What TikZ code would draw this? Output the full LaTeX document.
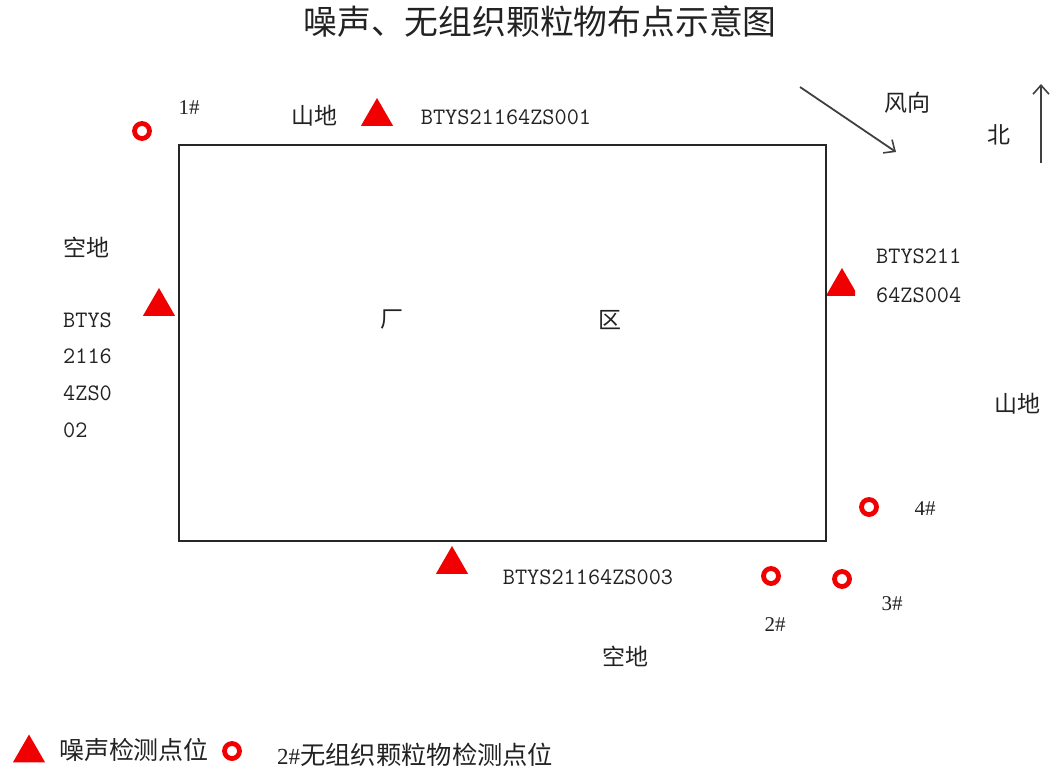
\documentclass[tikz,border=0pt]{standalone}
\usepackage{fontspec}
\usetikzlibrary{shapes.geometric,arrows.meta}
\newfontfamily\cjk{Noto Sans CJK SC}
\newfontfamily\hashfont{Liberation Serif}
\definecolor{txt}{HTML}{222222}
\definecolor{mk}{HTML}{F00000}
\tikzset{
  lbl/.style={inner sep=0pt, text=txt, font=\cjk\fontsize{23}{24}\selectfont},
  code/.style={inner sep=0pt, text=txt, font=\ttfamily\fontsize{23.6}{24}\selectfont},
  hash/.style={inner sep=0pt, text=txt, font=\hashfont\fontsize{21}{22}\selectfont},
  tri/.style={regular polygon, regular polygon sides=3, minimum size=37pt, inner sep=0pt, fill=mk, draw=none},
  ring/.style={circle, draw=mk, line width=4.8pt, minimum size=15pt, inner sep=0pt},
  arr/.style={draw=black!75, line width=1.8pt, -{Straight Barb[length=9pt,width=16pt,line width=1.6pt]}},
}
\begin{document}
\begin{tikzpicture}[x=1pt,y=-1pt]
\useasboundingbox (0,0) rectangle (1053,774);
% title
\node[inner sep=0pt, text=txt, font=\cjk\fontsize{33.8}{36}\selectfont] (title) at (540,22) {噪声、无组织颗粒物布点示意图};
% plant boundary
\node[draw=black!85, line width=1.6pt, minimum width=647pt, minimum height=396pt, inner sep=0pt] (plant) at (502.5,343) {};
\node[lbl] (chang) at (392,320) {厂};
\node[lbl] (qu) at (610,320) {区};
% top
\node[ring] (c1) at (142,131) {};
\node[hash] (h1) at (189,108) {1\#};
\node[lbl] (shan1) at (314,116) {山地};
\node[tri] (t1) at (377,116.5) {};
\node[code] (z1) at (506,117) {BTYS21164ZS001};
% wind and north
\coordinate (w1) at (800,87);
\coordinate (w2) at (896,152);
\draw[arr] (w1) -- (w2);
\node[lbl] (feng) at (907,103) {风向};
\node[lbl] (bei) at (999,135) {北};
\coordinate (n1) at (1041,163);
\coordinate (n2) at (1041,84);
\draw[arr] (n1) -- (n2);
% left
\node[lbl] (kong1) at (86,247) {空地};
\node[tri] (t2) at (159,306.5) {};
\node[code, anchor=west] (z2a) at (63,320) {BTYS};
\node[code, anchor=west] (z2b) at (63,356) {2116};
\node[code, anchor=west] (z2c) at (63,393) {4ZS0};
\node[code, anchor=west] (z2d) at (63,430) {02};
% right
\begin{scope}
\clip (827,260) rectangle (855,300);
\node[tri] (t4) at (842,286.5) {};
\end{scope}
\node[code, anchor=west] (z4a) at (876,256) {BTYS211};
\node[code, anchor=west] (z4b) at (876,295) {64ZS004};
\node[lbl] (shan2) at (1017,404) {山地};
\node[ring] (c4) at (869,507) {};
\node[hash] (h4) at (925,509) {4\#};
% bottom
\node[tri] (t3) at (452,564.5) {};
\node[code] (z3) at (588,577) {BTYS21164ZS003};
\node[ring] (c2) at (771,576) {};
\node[hash] (h2) at (775,625) {2\#};
\node[ring] (c3) at (842,579) {};
\node[hash] (h3) at (892,604) {3\#};
\node[lbl] (kong2) at (625,656) {空地};
% legend
\node[tri] (lt) at (29,753) {};
\node[inner sep=0pt, text=txt, font=\cjk\fontsize{25}{26}\selectfont] (ltt) at (134,750) {噪声检测点位};
\node[ring] (lc) at (232,751) {};
\node[inner sep=0pt, text=txt, anchor=west] (lct) at (277,755) {{\hashfont\fontsize{23}{24}\selectfont 2\#}{\cjk\fontsize{25.3}{26}\selectfont 无组织颗粒物检测点位}};
\end{tikzpicture}
\end{document}
